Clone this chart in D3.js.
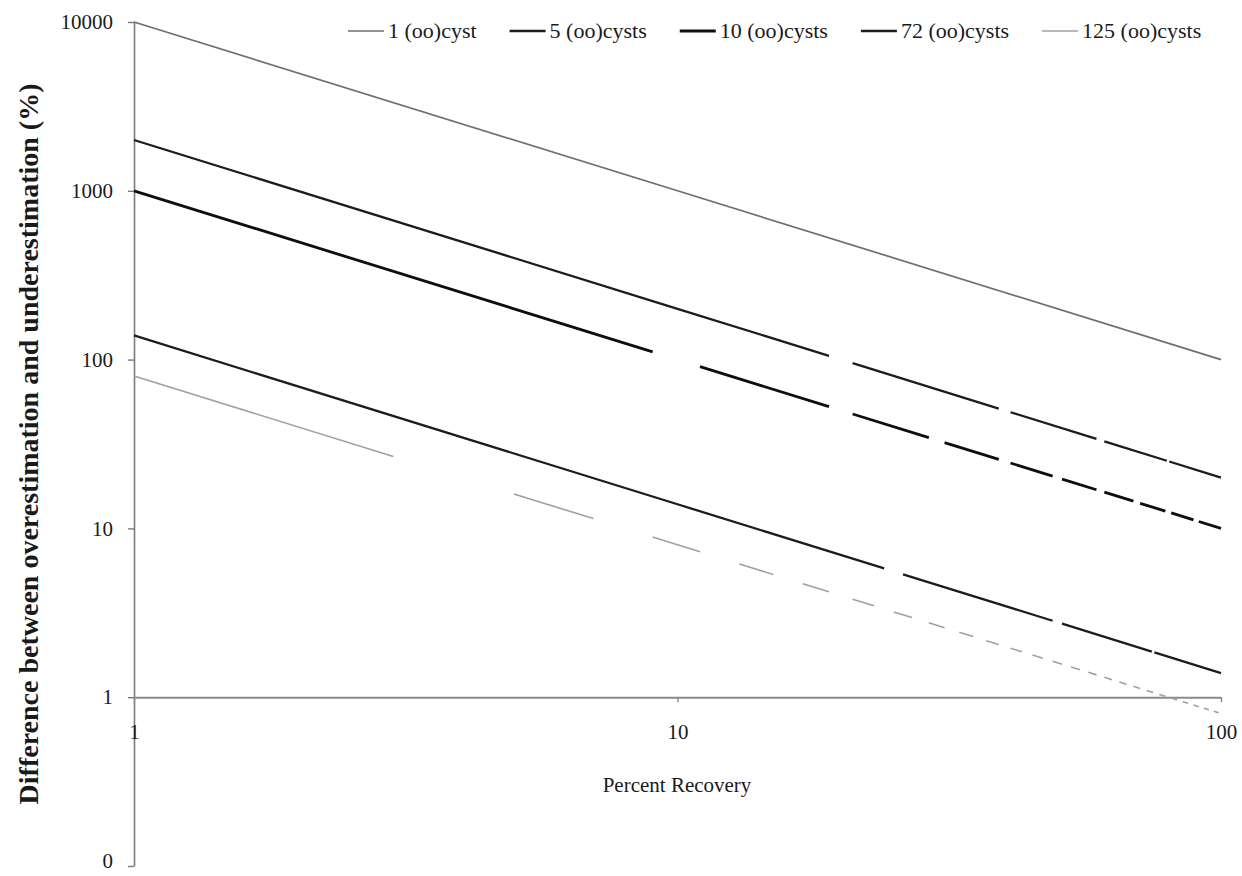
<!DOCTYPE html>
<html>
<head>
<meta charset="utf-8">
<script src="https://cdn.jsdelivr.net/npm/d3@7"></script>
<style>
  html, body { margin: 0; padding: 0; background: #fff; }
  svg { display: block; }
  text { font-family: "Liberation Serif", "Times New Roman", serif; fill: #1a1a1a; }
</style>
</head>
<body>
<svg id="chart" width="1242" height="876"></svg>
<script>
// Percent recovery at which each series is given
const recovery = [1, 10, 100];

// Difference between over- and underestimation (%) for each (oo)cyst count
const seriesNames = ["1 (oo)cyst", "5 (oo)cysts", "10 (oo)cysts", "72 (oo)cysts", "125 (oo)cysts"];
const cyst1   = [10000, 1000, 100];
const cyst5   = [2000, 200, 20];
const cyst10  = [1000, 100, 10];
const cyst72  = [139, 13.9, 1.39];
const cyst125 = [80, 8, 0.8];
const seriesValues = [cyst1, cyst5, cyst10, cyst72, cyst125];

// Axis ticks
const xTicks = [1, 10, 100];
const yTicks = [0.1, 1, 10, 100, 1000, 10000];

// Stroke styles per series
const lineStyles = [
  { color: "#6e6e6e", width: 1.7 },
  { color: "#1c1c1c", width: 2.3 },
  { color: "#0e0e0e", width: 2.8 },
  { color: "#1c1c1c", width: 2.3 },
  { color: "#a0a0a0", width: 1.6 }
];

// Breaks in each stroke, as ranges of percent recovery
const pairGaps = (starts, half) => starts.map(c => [c - half, c + half]);
const strokeGaps = [
  [],
  [[19, 21], [39, 41], [59, 61], [79.5, 80.3]],
  pairGaps([10, 20, 30, 40, 50, 60, 70, 80, 90], 1),
  [[24, 26], [49, 51], [74.6, 75.4]],
  d3.range(0, 25).map(k => [4 * k + 3, Math.min(4 * k + 5, 100)])
];

const svg = d3.select("#chart");

const x = d3.scaleLog().domain([1, 100]).range([134, 1221]);
const y = d3.scaleLog().domain([0.1, 10000]).range([866, 22]);

// Y axis on the left, crossing at recovery = 1
const yAxis = svg.append("g")
  .attr("transform", `translate(${x(1)},0)`)
  .call(d3.axisLeft(y).tickValues(yTicks).tickFormat(d3.format(".0f")).tickSize(6).tickSizeOuter(0).tickPadding(15));
yAxis.select(".domain").attr("stroke", "#7a7a7a").attr("stroke-width", 1.6);
yAxis.selectAll(".tick line").attr("stroke", "#7a7a7a").attr("stroke-width", 1.4);
yAxis.selectAll(".tick text").attr("font-size", 21).attr("font-family", "Liberation Serif, serif").attr("fill", "#1a1a1a");
// keep the lowest label inside the frame
yAxis.selectAll(".tick text").filter(d => d === yTicks[0]).attr("dy", "0.05em");

// X axis drawn along value = 1
const xAxis = svg.append("g")
  .attr("transform", `translate(0,${y(1)})`)
  .call(d3.axisBottom(x).tickValues(xTicks).tickFormat(d3.format("d")).tickSize(5).tickSizeOuter(0).tickPadding(22));
xAxis.select(".domain").attr("stroke", "#8a8a8a").attr("stroke-width", 2);
xAxis.selectAll(".tick line").attr("stroke", "#8a8a8a").attr("stroke-width", 1.4);
xAxis.selectAll(".tick text").attr("font-size", 21).attr("font-family", "Liberation Serif, serif").attr("fill", "#1a1a1a");

// Axis titles
svg.append("text")
  .attr("transform", `translate(38,444) rotate(-90)`)
  .attr("text-anchor", "middle")
  .attr("font-size", 28)
  .attr("font-weight", "bold")
  .text("Difference between overestimation and underestimation (%)");

svg.append("text")
  .attr("x", 677).attr("y", 792)
  .attr("text-anchor", "middle")
  .attr("font-size", 21)
  .text("Percent Recovery");

// Series lines
const line = d3.line().x(d => x(d[0])).y(d => y(d[1]));

function dashFor(values, gaps) {
  if (!gaps.length) return null;
  const x0 = x(recovery[0]), x1 = x(recovery[recovery.length - 1]);
  const dx = x1 - x0, dy = y(values[values.length - 1]) - y(values[0]);
  const total = Math.hypot(dx, dy);
  const at = r => total * (x(r) - x0) / dx;
  const parts = [];
  let pos = 0;
  gaps.forEach(([a, b]) => {
    const pa = at(a), pb = at(b);
    parts.push(pa - pos, pb - pa);
    pos = pb;
  });
  parts.push(total - pos + 10, 0);
  return parts.map(v => Math.max(v, 0).toFixed(2)).join(",");
}

seriesValues.forEach((vals, i) => {
  const pts = recovery.map((r, j) => [r, vals[j]]);
  svg.append("path")
    .datum(pts)
    .attr("d", line)
    .attr("fill", "none")
    .attr("stroke", lineStyles[i].color)
    .attr("stroke-width", lineStyles[i].width)
    .attr("stroke-dasharray", dashFor(vals, strokeGaps[i]));
});

// Legend across the top
const legend = svg.append("g").attr("transform", "translate(348,31)");
let lx = 0;
seriesNames.forEach((name, i) => {
  const g = legend.append("g").attr("transform", `translate(${lx},0)`);
  g.append("line")
    .attr("x1", 0).attr("x2", 36).attr("y1", 0).attr("y2", 0)
    .attr("stroke", lineStyles[i].color)
    .attr("stroke-width", lineStyles[i].width);
  const t = g.append("text")
    .attr("x", 40).attr("y", 7)
    .attr("font-size", 22)
    .text(name);
  lx += 40 + t.node().getComputedTextLength() + 33;
});
</script>
</body>
</html>
